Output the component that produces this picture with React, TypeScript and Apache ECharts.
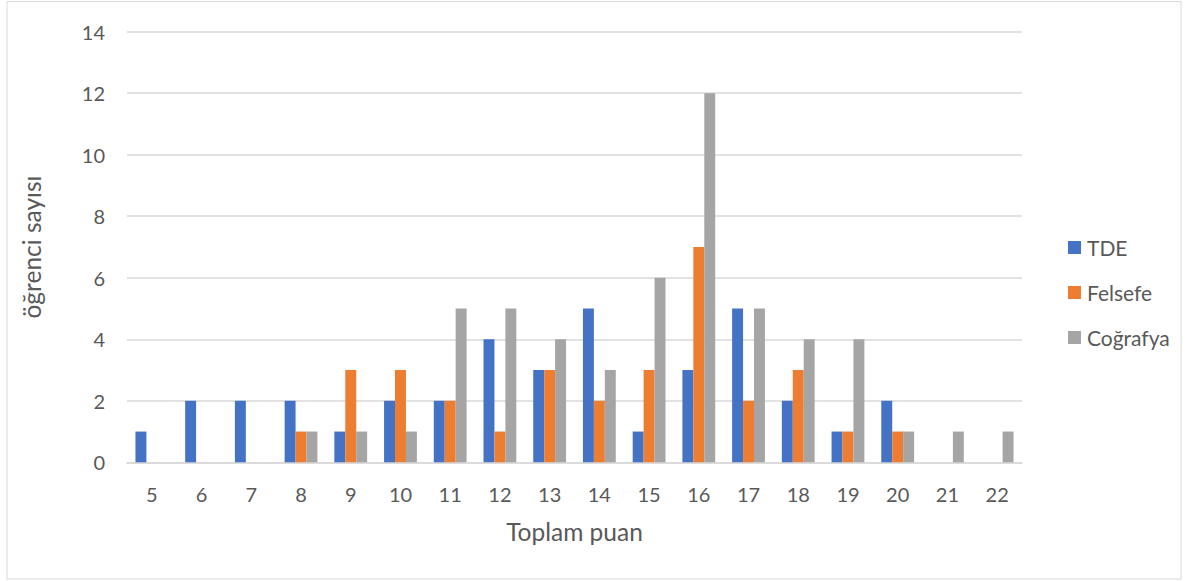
import React, { useEffect, useRef } from "react";
import * as echarts from "echarts";

const categories = ["5", "6", "7", "8", "9", "10", "11", "12", "13", "14", "15", "16", "17", "18", "19", "20", "21", "22"];
const tde = [1, 2, 2, 2, 1, 2, 2, 4, 3, 5, 1, 3, 5, 2, 1, 2, 0, 0];
const felsefe = [0, 0, 0, 1, 3, 3, 2, 1, 3, 2, 3, 7, 2, 3, 1, 1, 0, 0];
const cografya = [0, 0, 0, 1, 1, 1, 5, 5, 4, 3, 6, 12, 5, 4, 4, 1, 1, 1];
const seriesNames = ["TDE", "Felsefe", "Coğrafya"];
const colors = ["#4472C4", "#ED7D31", "#A5A5A5"];

const FONT = "Lato, 'Open Sans', sans-serif";
const TXT = "#595959";

export default function App() {
  const ref = useRef<HTMLDivElement>(null);
  useEffect(() => {
    document.body.style.margin = "0";
    if (!ref.current) return;
    const chart = echarts.init(ref.current, null, { renderer: "svg" });
    const data = [tde, felsefe, cografya];
    chart.setOption({
      animation: false,
      backgroundColor: "#fff",
      textStyle: { fontFamily: FONT, color: TXT },
      grid: { left: 127, right: 168, top: 31.7, bottom: 118.7 },
      graphic: [
        {
          type: "rect",
          shape: { x: 7, y: 1.5, width: 1174, height: 577.5 },
          style: { fill: "none", stroke: "#D9D9D9", lineWidth: 1 },
          silent: true,
        },
      ],
      legend: {
        orient: "vertical",
        left: 1063,
        top: 232,
        itemWidth: 13,
        itemHeight: 13,
        itemGap: 24,
        icon: "rect",
        textStyle: { fontFamily: FONT, color: TXT, fontSize: 21, lineHeight: 21, padding: [0, 0, 0, 1] },
        data: seriesNames,
      },
      xAxis: {
        type: "category",
        data: categories,
        name: "Toplam puan",
        nameLocation: "middle",
        nameGap: 57,
        nameTextStyle: { fontFamily: FONT, color: TXT, fontSize: 24.5 },
        axisLine: { lineStyle: { color: "#D9D9D9", width: 1.5 } },
        axisTick: { show: false },
        axisLabel: { fontFamily: FONT, color: TXT, fontSize: 20, margin: 22 },
      },
      yAxis: {
        type: "value",
        min: 0,
        max: 14,
        interval: 2,
        name: "öğrenci sayısı",
        nameLocation: "middle",
        nameGap: 83,
        nameTextStyle: { fontFamily: FONT, color: TXT, fontSize: 24.5 },
        axisLine: { show: false },
        axisTick: { show: false },
        splitLine: { lineStyle: { color: "#D9D9D9", width: 1.5 } },
        axisLabel: { fontFamily: FONT, color: TXT, fontSize: 20, margin: 22 },
      },
      series: seriesNames.map((n, i) => ({
        name: n,
        type: "bar",
        data: data[i],
        barGap: "0%",
        barCategoryGap: "34%",
        itemStyle: { color: colors[i] },
      })),
    });
    return () => chart.dispose();
  }, []);
  return <div ref={ref} style={{ width: 1190, height: 581 }} />;
}
